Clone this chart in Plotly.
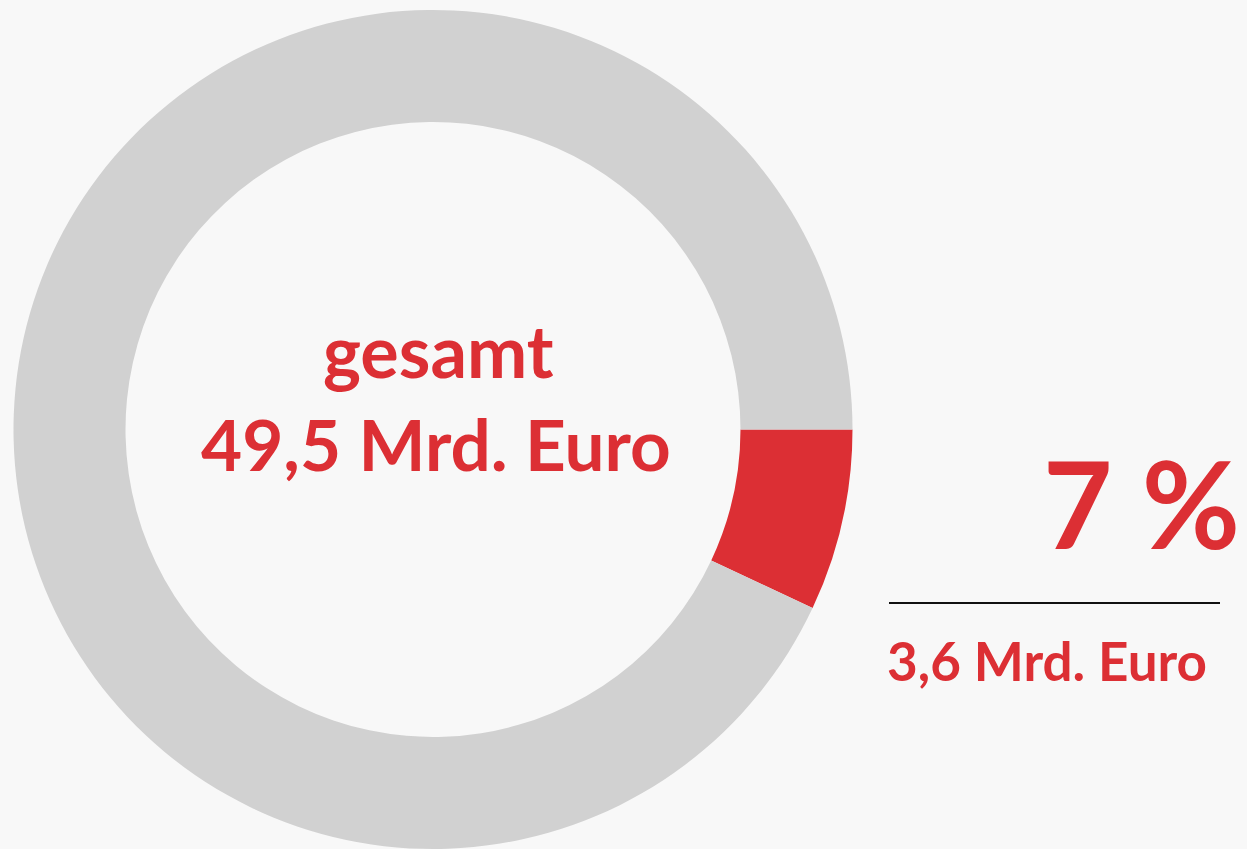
import plotly.graph_objects as go

labels = ["Anteil", "Rest"]
values = [7, 93]  # percent shares as drawn
colors = ["#DC2F34", "#D1D1D1"]
center_lines = ["gesamt", "49,5 Mrd. Euro"]
pct_label = "7 %"
part_label = "3,6 Mrd. Euro"

W, H = 1247, 849
RED = "#DC2F34"
FONT = "Lato"

def px(x):
    return x / W

def py(y):
    return 1 - y / H

fig = go.Figure(go.Pie(
    labels=labels, values=values, hole=0.733, sort=False,
    direction="clockwise", rotation=90,
    marker=dict(colors=colors, line=dict(width=0)),
    textinfo="none", hoverinfo="skip", showlegend=False,
    domain=dict(x=[px(13), px(853)], y=[0, py(10)]),
))

anns = [
    dict(text=center_lines[0], x=px(438), y=py(350), size=72),
    dict(text=center_lines[1], x=px(436), y=py(443), size=71),
    dict(text=part_label, x=px(1047), y=py(660), size=53),
]
for a in anns:
    fig.add_annotation(text=a["text"], x=a["x"], y=a["y"], xref="paper", yref="paper",
                       xanchor="center", yanchor="middle", showarrow=False,
                       font=dict(family=FONT, size=a["size"], color=RED, weight="bold"))
fig.add_annotation(text=pct_label, x=px(1242), y=py(503), xref="paper", yref="paper",
                   xanchor="right", yanchor="middle", showarrow=False,
                   font=dict(family=FONT, size=120, color=RED, weight="bold"))

fig.add_shape(type="line", xref="paper", yref="paper",
              x0=px(889), x1=px(1220), y0=py(603), y1=py(603),
              line=dict(color="#111111", width=2))

fig.update_layout(width=W, height=H, margin=dict(l=0, r=0, t=0, b=0),
                  paper_bgcolor="#F8F8F8", plot_bgcolor="#F8F8F8")
fig.write_html("out.html", config={"displayModeBar": False},
               post_script="document.body.style.margin='0';document.body.style.overflow='hidden';")
